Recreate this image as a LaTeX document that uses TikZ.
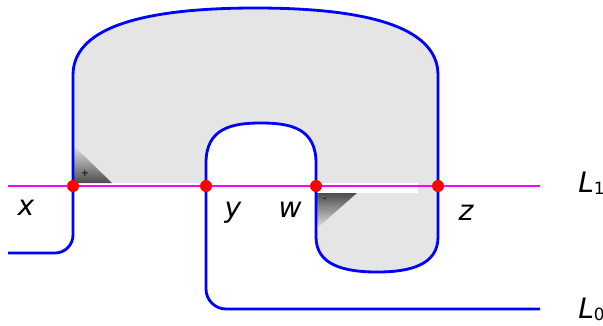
\documentclass[tikz,border=0pt]{standalone}
\usepackage{fontspec}
\usepackage{xcolor}
\usepackage{tikz}
\usetikzlibrary{positioning,calc}
\newfontfamily\lblfont{DejaVu Sans}
\definecolor{knotBlue}  {RGB}{0,   0, 255}
\definecolor{lvlMagenta}{RGB}{255, 0, 255}
\definecolor{dotRed}    {RGB}{255, 0,   0}
\definecolor{areaGrey}  {RGB}{229,229,229}

\begin{document}
\begin{tikzpicture}[x=0.025cm,y=0.025cm,
    curve/.style={knotBlue,line width=2pt},
    lvl/.style={lvlMagenta,line width=1.6pt},
    pt/.style={circle,fill=dotRed,inner sep=0pt,minimum size=0.3cm},
    lbl/.style={font=\lblfont\fontsize{20}{24}\selectfont\itshape,anchor=base,inner sep=0pt},
    sgn/.style={font=\lblfont\fontsize{7}{8}\selectfont,inner sep=0pt}]
  \useasboundingbox (0,0) rectangle (603,325);
  % Schnittpunkte auf L1
  \coordinate (px) at (73,139);
  \coordinate (py) at (206,139);
  \coordinate (pw) at (316,139);
  \coordinate (pz) at (438,139);
  % Flaeche
  \fill[areaGrey] (px) -- (73,250)
    .. controls (73,300) and (150,317) .. (255.5,317)
    .. controls (361,317) and (438,300) .. (438,250) -- (438,88)
    .. controls (438,60) and (410,53) .. (377,53)
    .. controls (344,53) and (316,60) .. (316,88) -- (316,162)
    .. controls (316,197) and (290,202) .. (261,202)
    .. controls (232,202) and (206,197) .. (206,162) -- (py) -- cycle;
  \fill[white] (73,132) rectangle (418,142);
  % Winkel
  \shade[shading angle=-45,bottom color=black!70,middle color=areaGrey,top color=areaGrey]
    (73,142) -- (73,180) -- (112,142) -- cycle;
  \shade[shading angle=45,top color=black!70,middle color=areaGrey,bottom color=areaGrey]
    (316,132) -- (316,96) -- (357,132) -- cycle;
  \node[sgn] (sp) at (85,152) {+};
  \node[sgn] (sm) at (325,125) {-};
  % Kurve L0
  \draw[curve] (8,72) [rounded corners=0.45cm] -- (73,72) [sharp corners] -- (px) -- (73,250)
    .. controls (73,300) and (150,317) .. (255.5,317)
    .. controls (361,317) and (438,300) .. (438,250) -- (pz) -- (438,88)
    .. controls (438,60) and (410,53) .. (377,53)
    .. controls (344,53) and (316,60) .. (316,88) -- (pw) -- (316,162)
    .. controls (316,197) and (290,202) .. (261,202)
    .. controls (232,202) and (206,197) .. (206,162) -- (py)
    [rounded corners=0.5cm] -- (206,16) -- (540,16);
  % Gerade L1
  \draw[lvl] (8,139) -- (540,139);
  \foreach \p in {px,py,pw,pz}
    \node[pt] (d\p) at (\p) {};
  % Beschriftung
  \node[lbl] (lx) at (26,110) {x};
  \node[lbl] (ly) at (233,108) {y};
  \node[lbl] (lw) at (290,108) {w};
  \node[lbl] (lz) at (466,105) {z};
  \node[lbl,anchor=base west] (l1) at (578,133)
    {L\raisebox{-2pt}{\upshape\fontsize{12}{12}\selectfont 1}};
  \node[lbl,anchor=base west] (l0) at (578,7)
    {L\raisebox{-2pt}{\upshape\fontsize{12}{12}\selectfont 0}};
\end{tikzpicture}
\end{document}
